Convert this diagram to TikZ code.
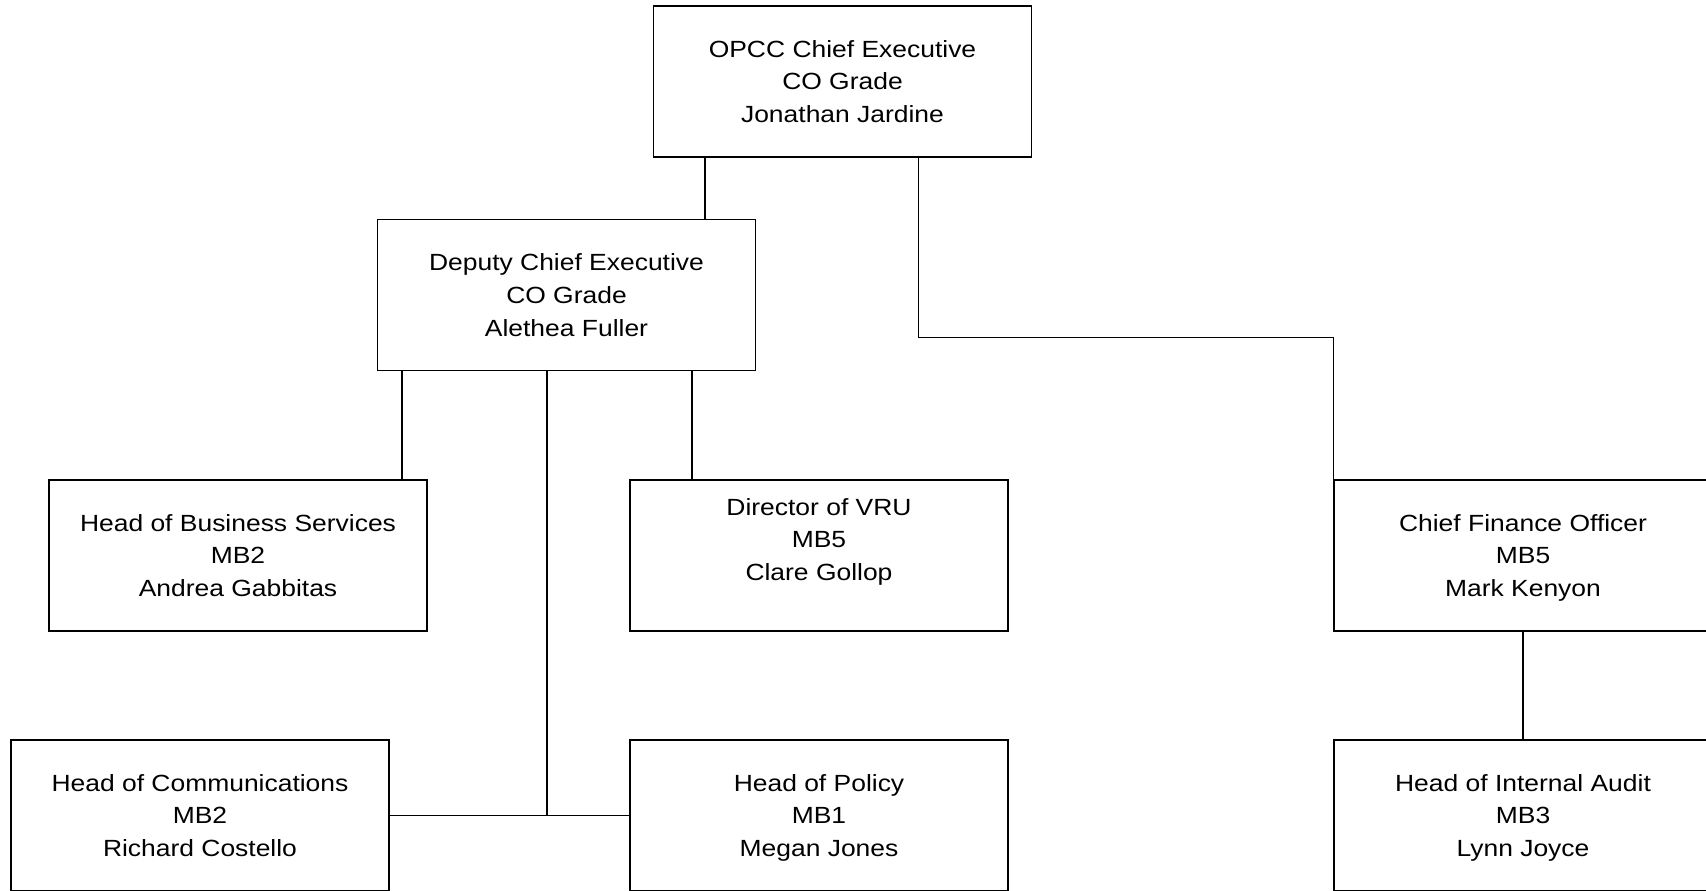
\documentclass[tikz,border=0pt]{standalone}
\usepackage{fontspec}
\setmainfont{Liberation Sans}[FakeStretch=1.13]
\usetikzlibrary{positioning}

\begin{document}
\begin{tikzpicture}[
    x=0.5pt, y=-0.5pt,
    line width=0.65pt,
    post/.style={draw, rectangle, minimum width=189pt, minimum height=75.5pt,
        inner sep=0pt, text depth=0pt, align=center,
        font=\fontsize{11.7}{16.3}\selectfont}
]
\useasboundingbox (0,0) rectangle (1706,890);

\node[post] (opcc) at (842.5,81.5) {OPCC Chief Executive\\CO Grade\\Jonathan Jardine};
\node[post] (deputy) at (566.5,295) {Deputy Chief Executive\\CO Grade\\Alethea Fuller};
\node[post] (business) at (238,555.5) {Head of Business Services\\MB2\\Andrea Gabbitas};
\node[post] (vru) at (819,555.5) {Director of VRU\\MB5\\Clare Gollop\\~};
\node[post] (cfo) at (1523,555.5) {Chief Finance Officer\\MB5\\Mark Kenyon};
\node[post] (comms) at (200,815.5) {Head of Communications\\MB2\\Richard Costello};
\node[post] (policy) at (819,815.5) {Head of Policy\\MB1\\Megan Jones};
\node[post] (audit) at (1523,815.5) {Head of Internal Audit\\MB3\\Lynn Joyce};

% feet of the reporting lines
\coordinate (opccL) at ([xshift=26pt]opcc.south west);
\coordinate (opccR) at ([xshift=-57pt]opcc.south east);
\coordinate (depA) at ([xshift=12.5pt]deputy.south west);
\coordinate (depB) at ([xshift=85pt]deputy.south west);
\coordinate (depC) at ([xshift=157.5pt]deputy.south west);

\draw (opccL) -- (opccL |- deputy.north);
\draw (opccR) -- ++(0,-90pt) -| (cfo.north west);
\draw (depA) -- (depA |- business.north);
\draw (depC) -- (depC |- vru.north);
\draw (depB) -- (depB |- comms.east);
\draw (comms.east) -- (policy.west);
\path (cfo) edge (audit);
\end{tikzpicture}
\end{document}
